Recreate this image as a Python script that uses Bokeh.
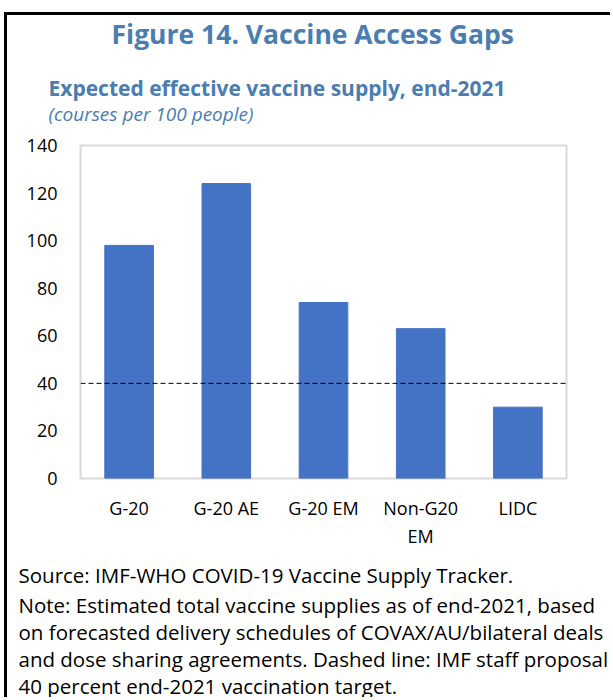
from bokeh.plotting import figure
from bokeh.models import Title, Span, FixedTicker
from bokeh.embed import file_html
from bokeh.resources import INLINE

# Expected effective vaccine supply, end-2021 (courses per 100 people)
categories = ["G-20", "G-20 AE", "G-20 EM", "Non-G20\nEM", "LIDC"]
supply = [98, 124, 74, 63, 30]
target = 40
y_ticks = [0, 20, 40, 60, 80, 100, 120, 140]

title_text = "Figure 14. Vaccine Access Gaps"
subtitle_text = "Expected effective vaccine supply, end-2021"
units_text = "(courses per 100 people)"
footer_lines = [
    "Source: IMF-WHO COVID-19 Vaccine Supply Tracker.",
    "Note: Estimated total vaccine supplies as of end-2021, based",
    "on forecasted delivery schedules of COVAX/AU/bilateral deals",
    "and dose sharing agreements. Dashed line: IMF staff proposal",
    "40 percent end-2021 vaccination target.",
]

FONT = "Open Sans"
BLUE_TEXT = "#4a7db0"
BAR_BLUE = "#4472c4"

p = figure(
    x_range=categories, y_range=(0, 140),
    width=606, height=685,
    output_backend="svg", toolbar_location=None,
    min_border_left=73, min_border_right=47,
    min_border_top=130, min_border_bottom=222,
)
# black frame on the left and top edges of the panel
p.margin = (12, 0, 0, 4)
p.styles = {"border-left": "3px solid black", "border-top": "3px solid black"}

p.background_fill_color = "white"
p.border_fill_color = "white"
p.outline_line_color = "#d9d9d9"
p.outline_line_width = 2

p.vbar(x=categories, top=supply, width=0.5,
       fill_color=BAR_BLUE, line_color=BAR_BLUE)

# 40 percent vaccination target
p.add_layout(Span(location=target, dimension="width", line_color="black",
                  line_width=1, line_dash="5 3"))

p.xgrid.visible = False
p.ygrid.visible = False

for ax in (p.xaxis[0], p.yaxis[0]):
    ax.axis_line_color = None
    ax.major_tick_line_color = None
    ax.minor_tick_line_color = None
    ax.major_label_text_font = FONT
    ax.major_label_text_font_size = "18px"
    ax.major_label_text_color = "black"

p.yaxis[0].ticker = FixedTicker(ticks=y_ticks)
p.yaxis[0].major_label_standoff = 17
p.xaxis[0].major_label_standoff = 11


def spacer(so):
    # blank heading row used only to set vertical spacing
    return Title(text=" ", text_font=FONT, text_font_size="10px", standoff=so)


# headings, stacked from the frame outward
p.add_layout(spacer(4), "above")
p.add_layout(Title(text=units_text, align="left", offset=-32,
                   text_font=FONT, text_font_style="italic", text_font_size="19px",
                   text_color=BLUE_TEXT, standoff=-2.2), "above")
p.add_layout(Title(text=subtitle_text, align="left", offset=-32,
                   text_font=FONT, text_font_style="bold", text_font_size="21px",
                   text_color=BLUE_TEXT, standoff=-4.6), "above")
p.add_layout(spacer(7.8), "above")

p.title.text = title_text
p.title.align = "left"
p.title.offset = 31
p.title.text_font = FONT
p.title.text_font_style = "bold"
p.title.text_font_size = "26.5px"
p.title.text_color = BLUE_TEXT
p.title.standoff = -2.6

# source and notes below the chart
p.add_layout(spacer(-11.3), "below")
for i, line in enumerate(footer_lines):
    p.add_layout(Title(text=line, align="left", offset=-62,
                       text_font=FONT, text_font_style="normal", text_font_size="20.5px",
                       text_color="black", standoff=4 if i == 0 else -3.2), "below")

open("out.html", "w").write(file_html(p, INLINE))
